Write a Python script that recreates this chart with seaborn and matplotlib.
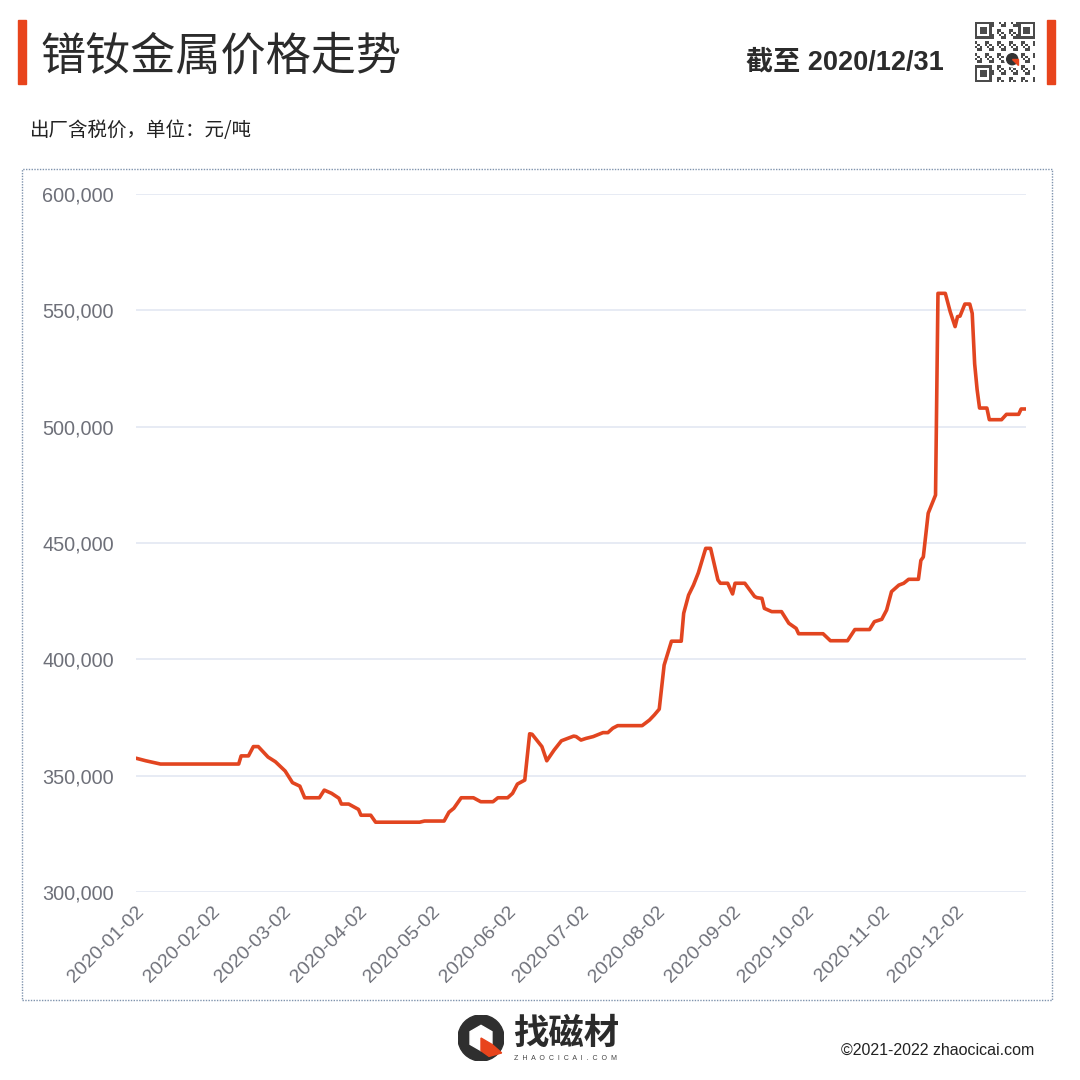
import matplotlib
matplotlib.use("Agg")
import matplotlib.pyplot as plt
import matplotlib.dates as mdates
from matplotlib.patches import Rectangle, Circle, Polygon
from matplotlib.ticker import FuncFormatter
import seaborn as sns
import pandas as pd
import numpy as np

# ---------------- data ----------------
dates = [
    "2020-01-02", "2020-01-06", "2020-01-12", "2020-02-13", "2020-02-14", "2020-02-17",
    "2020-02-19", "2020-02-21", "2020-02-25", "2020-02-28", "2020-03-02", "2020-03-03",
    "2020-03-06", "2020-03-09", "2020-03-11", "2020-03-17", "2020-03-19", "2020-03-22",
    "2020-03-25", "2020-03-26", "2020-03-29", "2020-04-02", "2020-04-03", "2020-04-07",
    "2020-04-09", "2020-04-27", "2020-04-29", "2020-05-07", "2020-05-09", "2020-05-11",
    "2020-05-14", "2020-05-19", "2020-05-22", "2020-05-27", "2020-05-29", "2020-06-02",
    "2020-06-04", "2020-06-06", "2020-06-09", "2020-06-11", "2020-06-12", "2020-06-16",
    "2020-06-18", "2020-06-21", "2020-06-24", "2020-06-29", "2020-06-30", "2020-07-02",
    "2020-07-04", "2020-07-07", "2020-07-11", "2020-07-13", "2020-07-15", "2020-07-17",
    "2020-07-27", "2020-07-30", "2020-08-01", "2020-08-03", "2020-08-05", "2020-08-08",
    "2020-08-12", "2020-08-13", "2020-08-15", "2020-08-17", "2020-08-19", "2020-08-22",
    "2020-08-24", "2020-08-27", "2020-08-28", "2020-08-31", "2020-09-02", "2020-09-03",
    "2020-09-07", "2020-09-11", "2020-09-12", "2020-09-14", "2020-09-15", "2020-09-18",
    "2020-09-22", "2020-09-25", "2020-09-28", "2020-09-29", "2020-10-09", "2020-10-12",
    "2020-10-19", "2020-10-22", "2020-10-28", "2020-10-30", "2020-11-02", "2020-11-04",
    "2020-11-06", "2020-11-09", "2020-11-11", "2020-11-13", "2020-11-17", "2020-11-18",
    "2020-11-19", "2020-11-21", "2020-11-24", "2020-11-25", "2020-11-28", "2020-11-30",
    "2020-12-02", "2020-12-03", "2020-12-04", "2020-12-06", "2020-12-08", "2020-12-09",
    "2020-12-10", "2020-12-11", "2020-12-12", "2020-12-15", "2020-12-16", "2020-12-21",
    "2020-12-23", "2020-12-28", "2020-12-29", "2020-12-31",
]
prices = [
    357500, 356400, 355000, 355000, 358500, 358500,
    362500, 362500, 358000, 356000, 353000, 352000,
    347000, 345500, 340500, 340500, 343800, 342400,
    340300, 337800, 337800, 335500, 333000, 333000,
    330000, 330000, 330500, 330500, 334300, 336000,
    340500, 340500, 338800, 338800, 340500, 340500,
    342400, 346400, 348100, 368000, 367800, 362500,
    356400, 361000, 365000, 367000, 366800, 365300,
    366000, 366800, 368500, 368500, 370400, 371500,
    371500, 373900, 376100, 378600, 397500, 407800,
    407800, 419800, 427600, 431900, 437200, 447700,
    447700, 434100, 432700, 432700, 428100, 432700,
    432700, 427000, 426500, 426200, 421900, 420500,
    420500, 415500, 413300, 411000, 411000, 408000,
    408000, 412800, 412800, 416200, 417200, 421200,
    429100, 431900, 432700, 434400, 434400, 442500,
    444000, 462800, 470600, 557300, 557300, 549400,
    543000, 547300, 547500, 552700, 552700, 548700,
    527000, 516000, 508000, 508000, 503000, 503000,
    505300, 505300, 507600, 507600,
]
tick_dates = ["2020-01-02", "2020-02-02", "2020-03-02", "2020-04-02", "2020-05-02",
              "2020-06-02", "2020-07-02", "2020-08-02", "2020-09-02", "2020-10-02",
              "2020-11-02", "2020-12-02"]
y_ticks = [300000, 350000, 400000, 450000, 500000, 550000, 600000]

title = "镨钕金属价格走势"
date_note = "截至 2020/12/31"
subtitle = "出厂含税价，单位：元/吨"
copyright_text = "©2021-2022 zhaocicai.com"
brand = "找磁材"
brand_sub = "ZHAOCICAI.COM"

# ---------------- style ----------------
sns.set_theme(style="white")
plt.rcParams["font.family"] = ["Liberation Sans", "Noto Sans CJK SC", "DejaVu Sans"]
CJK = ["Noto Sans CJK SC", "DejaVu Sans"]
MIX = ["Liberation Sans", "Noto Sans CJK SC", "DejaVu Sans"]

RED = "#e8441c"
LINE = "#e24520"
AXIS_TXT = "#6e7079"
GRID = "#e0e6f1"

W = H = 1080
fig = plt.figure(figsize=(10.8, 10.8), dpi=100)
fig.patch.set_facecolor("white")

def fx(px):
    return px / W

def fy(py):
    return 1 - py / H

ax = fig.add_axes([fx(136), fy(892), fx(1026) - fx(136), fy(194) - fy(892)])

df = pd.DataFrame({"date": pd.to_datetime(dates), "price": prices})
sns.lineplot(data=df, x="date", y="price", ax=ax, color=LINE, linewidth=2.6)

ax.set_xlim(pd.Timestamp("2020-01-02"), pd.Timestamp("2020-12-31"))
ax.set_ylim(300000, 600000)
ax.set_yticks(y_ticks)
ax.yaxis.set_major_formatter(FuncFormatter(lambda v, p: f"{int(v):,}"))
ax.set_xticks(pd.to_datetime(tick_dates))
ax.xaxis.set_major_formatter(mdates.DateFormatter("%Y-%m-%d"))
ax.set_xlabel("")
ax.set_ylabel("")
ax.grid(axis="y", color=GRID, linewidth=1.1)
ax.grid(axis="x", visible=False)
for s in ax.spines.values():
    s.set_visible(False)
ax.tick_params(axis="y", length=0, pad=16, labelsize=14.3, labelcolor=AXIS_TXT)
ax.tick_params(axis="x", length=0, pad=8, labelsize=14, labelcolor=AXIS_TXT)
for lab in ax.get_xticklabels():
    lab.set_rotation(45)
    lab.set_ha("right")
    lab.set_va("top")
    lab.set_rotation_mode("anchor")
ax.set_facecolor("none")

# ---------------- header ----------------
fig.patches.append(Rectangle((fx(18), fy(84)), fx(8), fy(20) - fy(84),
                             transform=fig.transFigure, color=RED, zorder=5))
fig.patches.append(Rectangle((fx(1047), fy(84)), fx(8), fy(20) - fy(84),
                             transform=fig.transFigure, color=RED, zorder=5))
fig.text(fx(40), fy(57), title, family=CJK, fontsize=32.5, color="#2b2b2b",
         ha="left", va="center", fontweight="medium")
fig.text(fx(944), fy(63), date_note, family=MIX, fontsize=19.5, color="#2b2b2b",
         ha="right", va="center", fontweight="bold")
fig.text(fx(30), fy(131), subtitle, family=CJK, fontsize=14, color="#222222",
         ha="left", va="center")

# pseudo QR code (decoration)
qr_ax = fig.add_axes([fx(975), fy(82), fx(60), fy(22) - fy(82)])
n = 25
grid_q = np.zeros((n, n))
for i in range(n):
    for j in range(n):
        grid_q[i, j] = 1 if ((i * 7 + j * 13 + i * j) % 5) < 2 else 0
def finder(r, c):
    grid_q[r:r + 7, c:c + 7] = 1
    grid_q[r + 1:r + 6, c + 1:c + 6] = 0
    grid_q[r + 2:r + 5, c + 2:c + 5] = 1
finder(0, 0)
finder(0, n - 7)
finder(n - 7, 0)
qr_ax.imshow(grid_q, cmap="Greys", interpolation="nearest", vmin=0, vmax=1.3)
qr_ax.add_patch(Circle((15, 15), 3.2, color="white", zorder=3))
qr_ax.add_patch(Circle((15, 15), 2.3, color="#333333", zorder=4))
qr_ax.add_patch(Polygon([[15, 15], [17.3, 15], [17.3, 17.3]], color=RED, zorder=5))
qr_ax.axis("off")

# ---------------- chart frame ----------------
fig.patches.append(Rectangle((fx(22), fy(1000)), fx(1052) - fx(22), fy(169) - fy(1000),
                             transform=fig.transFigure, fill=False,
                             edgecolor="#7f93ad", linestyle=(0, (1, 1)), linewidth=1.0))

# ---------------- footer ----------------
logo_ax = fig.add_axes([fx(458), fy(1062), fx(46), fy(1014) - fy(1062)])
logo_ax.set_xlim(-1, 1)
logo_ax.set_ylim(-1, 1)
logo_ax.set_aspect("equal")
logo_ax.add_patch(Circle((0, 0), 1.0, color="#2f2f2f"))
hexagon = [[np.cos(a), np.sin(a)] for a in np.deg2rad(np.arange(90, 450, 60))]
logo_ax.add_patch(Polygon(np.array(hexagon) * 0.55, color="white"))
logo_ax.add_patch(Polygon([[0.0, 0.0], [0.48, -0.28], [0.9, -0.65], [0.35, -0.8], [0.0, -0.55]],
                          color=RED))
logo_ax.axis("off")
fig.text(fx(513), fy(1033), brand, family=CJK, fontsize=25.5, fontweight="bold",
         color="#2b2b2b", ha="left", va="center")
fig.text(fx(514), fy(1058), "  ".join(brand_sub), family=MIX, fontsize=5,
         color="#444444", ha="left", va="center")
fig.text(fx(1034), fy(1050), copyright_text, family=MIX, fontsize=11.5,
         color="#222222", ha="right", va="center")

fig.savefig("out.png", dpi=100, facecolor="white")
